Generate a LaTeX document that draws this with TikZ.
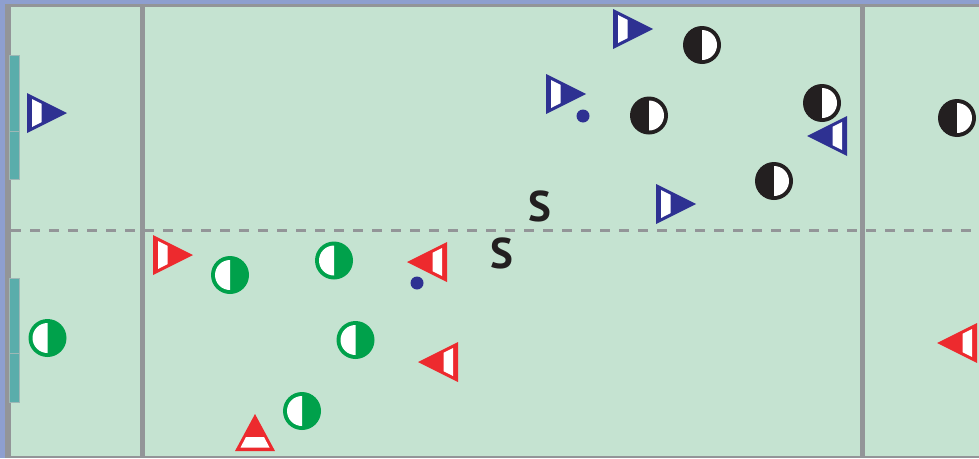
\documentclass[tikz,border=0pt]{standalone}
\usepackage{fontspec}
\setmainfont{PT Sans}
\definecolor{field}{HTML}{C5E3D1}
\definecolor{frameblue}{HTML}{8E9FCF}
\definecolor{lgray}{HTML}{939598}
\definecolor{pblue}{HTML}{2E3192}
\definecolor{pred}{HTML}{ED2A2E}
\definecolor{pgreen}{HTML}{00A14B}
\definecolor{pblack}{HTML}{231F20}
\definecolor{goalc}{HTML}{5AADAB}
\definecolor{goaledge}{HTML}{9DB8B6}
\tikzset{
  fieldline/.style={draw=lgray, line width=5pt},
  midline/.style={draw=lgray, line width=3pt, dash pattern=on 10pt off 9pt},
  goalbox/.style={fill=goalc, draw=goaledge, line width=0.8pt},
  letter/.style={font=\bfseries\fontsize{43}{43}\selectfont, text=pblack, inner sep=0pt},
}
% triangle pointing right: base x, centre y
\newcommand{\triR}[3]{%
  \fill[#1] (#2,#3-20) -- (#2+40,#3) -- (#2,#3+20) -- cycle;
  \fill[white] (#2+5,#3-14) -- (#2+14.5,#3-9.2) -- (#2+14.5,#3+9.2) -- (#2+5,#3+14) -- cycle;}
% triangle pointing left: base x, centre y
\newcommand{\triL}[3]{%
  \fill[#1] (#2,#3-20) -- (#2-40,#3) -- (#2,#3+20) -- cycle;
  \fill[white] (#2-5,#3-14) -- (#2-14.5,#3-9.2) -- (#2-14.5,#3+9.2) -- (#2-5,#3+14) -- cycle;}
% triangle pointing up: centre x, base y
\newcommand{\triU}[3]{%
  \fill[#1] (#2-20,#3) -- (#2,#3-37) -- (#2+20,#3) -- cycle;
  \fill[white] (#2-14.5,#3-3.5) -- (#2-9,#3-14) -- (#2+9,#3-14) -- (#2+14.5,#3-3.5) -- cycle;}
% green player: white left half
\newcommand{\gpl}[2]{%
  \fill[pgreen] (#1,#2) circle (19);
  \fill[white] (#1,#2+15) arc (90:270:15) -- cycle;}
% black player: white right half
\newcommand{\kpl}[2]{%
  \fill[pblack] (#1,#2) circle (19);
  \fill[white] (#1,#2-15) arc (-90:90:15) -- cycle;}
\begin{document}
\begin{tikzpicture}[x=1pt,y=-1pt]
\useasboundingbox (0,0) rectangle (979,458);
% field
\fill[field] (0,0) rectangle (979,458);
% outer frame
\fill[frameblue] (0,0) rectangle (979,4);
\fill[frameblue] (0,0) rectangle (5,458);
\fill[lgray] (5,4) rectangle (979,7);
\fill[lgray] (5,4) rectangle (11,458);
\fill[lgray] (11,456) rectangle (979,458);
% goals
\draw[goalbox] (9,55) rectangle (19,179);
\draw[goaledge, line width=0.8pt] (9,131) -- (19,131);
\draw[goalbox] (9,278) rectangle (19,402);
\draw[goaledge, line width=0.8pt] (9,353) -- (19,353);
% half-way line
\coordinate (mlL) at (11,230);
\coordinate (mlR) at (979,230);
\draw[midline] (mlL) -- (mlR);
% vertical lines
\coordinate (v1t) at (142,4);
\coordinate (v1b) at (142,456);
\coordinate (v2t) at (862,4);
\coordinate (v2b) at (862,456);
\draw[fieldline] (v1t) -- (v1b);
\draw[fieldline] (v2t) -- (v2b);
% blue players
\triR{pblue}{27}{113}
\triR{pblue}{613}{29}
\triR{pblue}{546}{94}
\triR{pblue}{656}{204}
\triL{pblue}{847}{136}
% red players
\triR{pred}{153}{255}
\triL{pred}{447}{262}
\triL{pred}{458}{362}
\triL{pred}{977}{343}
\triU{pred}{255}{451}
% balls
\fill[pblue] (583,116) circle (6.5);
\fill[pblue] (417,283) circle (6.5);
% black players
\kpl{702}{45}
\kpl{649}{115.5}
\kpl{822}{103}
\kpl{774}{181}
\kpl{957}{118}
% green players
\gpl{47.5}{338}
\gpl{230}{275}
\gpl{334}{260.5}
\gpl{355.5}{340}
\gpl{302}{411}
% letters
\node[letter] (s1) at (540,206.7) {S};
\node[letter] (s2) at (501.7,253.3) {S};
\end{tikzpicture}
\end{document}
